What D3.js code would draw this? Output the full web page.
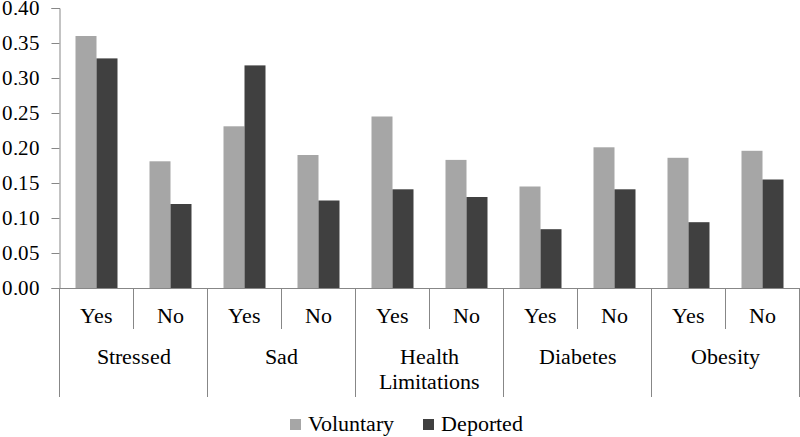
<!DOCTYPE html>
<html>
<head>
<meta charset="utf-8">
<script src="https://cdn.jsdelivr.net/npm/d3@7"></script>
<style>
  @font-face { font-family: "ChartSerif"; src: local("Liberation Serif"), local("LiberationSerif"), local("Times New Roman"); }
  body { margin: 0; background: #fff; }
  #chart text { font-family: "ChartSerif", "Liberation Serif", "Times New Roman", serif !important; }
</style>
</head>
<body>
<svg id="chart" width="800" height="437"></svg>
<script>
const groups = ["Stressed", "Sad", "Health Limitations", "Diabetes", "Obesity"];
const answers = ["Yes", "No"];
const seriesNames = ["Voluntary", "Deported"];
const voluntary = [0.360, 0.181, 0.231, 0.190, 0.245, 0.183, 0.145, 0.201, 0.186, 0.196];
const deported  = [0.328, 0.120, 0.318, 0.125, 0.141, 0.130, 0.084, 0.141, 0.094, 0.155];
const yTicks = [0, 0.05, 0.10, 0.15, 0.20, 0.25, 0.30, 0.35, 0.40];

const colors = { Voluntary: "#a6a6a6", Deported: "#404040" };
const axisColor = "#878787";

const svg = d3.select("#chart");

// one row per Yes/No cell
const cells = [];
groups.forEach((g, gi) => {
    answers.forEach((a, ai) => {
        const i = gi * answers.length + ai;
        cells.push({ key: g + "|" + a, group: g, answer: a, Voluntary: voluntary[i], Deported: deported[i] });
    });
});

const x = d3.scaleBand()
    .domain(cells.map(d => d.key))
    .range([59.5, 799.5])
    .padding(0);

const xInner = d3.scaleBand()
    .domain(seriesNames)
    .range([16, x.bandwidth() - 16])
    .padding(0);

const y = d3.scaleLinear()
    .domain([0, 0.4])
    .range([288, 8]);

// y axis
const yAxis = svg.append("g")
    .attr("transform", "translate(59.5,0)")
    .call(d3.axisLeft(y).tickValues(yTicks).tickSize(8).tickPadding(12).tickFormat(d3.format(".2f")));
yAxis.attr("font-family", null).attr("font-size", 21);
yAxis.select(".domain").attr("stroke", axisColor);
yAxis.selectAll(".tick line").attr("stroke", axisColor);
yAxis.selectAll(".tick text").attr("fill", "#000");

// bars
const cellG = svg.selectAll(".cell")
    .data(cells)
    .enter()
    .append("g")
    .attr("class", "cell")
    .attr("transform", d => `translate(${x(d.key)},0)`);

cellG.selectAll("rect")
    .data(d => seriesNames.map(s => ({ series: s, value: d[s] })))
    .enter()
    .append("rect")
    .attr("x", d => xInner(d.series))
    .attr("width", xInner.bandwidth())
    .attr("y", d => y(d.value))
    .attr("height", d => y(0) - y(d.value))
    .attr("fill", d => colors[d.series]);

// x axis base line
svg.append("line")
    .attr("x1", 59.5).attr("x2", 799.5)
    .attr("y1", y(0) + 0.5).attr("y2", y(0) + 0.5)
    .attr("stroke", axisColor);

// dividers: short between Yes/No, long between groups
const edges = d3.range(cells.length + 1);
svg.selectAll(".divider")
    .data(edges)
    .enter()
    .append("line")
    .attr("x1", i => i < cells.length ? x(cells[i].key) : x.range()[1])
    .attr("x2", i => i < cells.length ? x(cells[i].key) : x.range()[1])
    .attr("y1", y(0))
    .attr("y2", i => i % answers.length === 0 ? 397 : 329)
    .attr("stroke", axisColor);

// Yes / No labels
svg.selectAll(".answer")
    .data(cells)
    .enter()
    .append("text")
    .attr("x", d => x(d.key) + x.bandwidth() / 2)
    .attr("y", 323)
    .attr("text-anchor", "middle")
    .attr("font-size", 22)
    .text(d => d.answer);

// group labels, "Health Limitations" wraps
const groupLines = { "Health Limitations": ["Health", "Limitations"] };
svg.selectAll(".group")
    .data(groups)
    .enter()
    .append("text")
    .attr("text-anchor", "middle")
    .attr("font-size", 22)
    .each(function(g, gi) {
        const cx = x(cells[gi * 2].key) + x.bandwidth();
        const lines = groupLines[g] || [g];
        d3.select(this).selectAll("tspan")
            .data(lines)
            .enter()
            .append("tspan")
            .attr("x", cx)
            .attr("y", (l, li) => 364 + li * 25)
            .text(l => l);
    });

// legend
const legendPos = [{ s: "Voluntary", x: 290 }, { s: "Deported", x: 423 }];
const legend = svg.selectAll(".legend")
    .data(legendPos)
    .enter()
    .append("g")
    .attr("transform", d => `translate(${d.x},419)`);
legend.append("rect")
    .attr("width", 11).attr("height", 11)
    .attr("fill", d => colors[d.s]);
legend.append("text")
    .attr("x", 18)
    .attr("y", 12)
    .attr("font-size", 22)
    .text(d => d.s);
</script>
</body>
</html>
